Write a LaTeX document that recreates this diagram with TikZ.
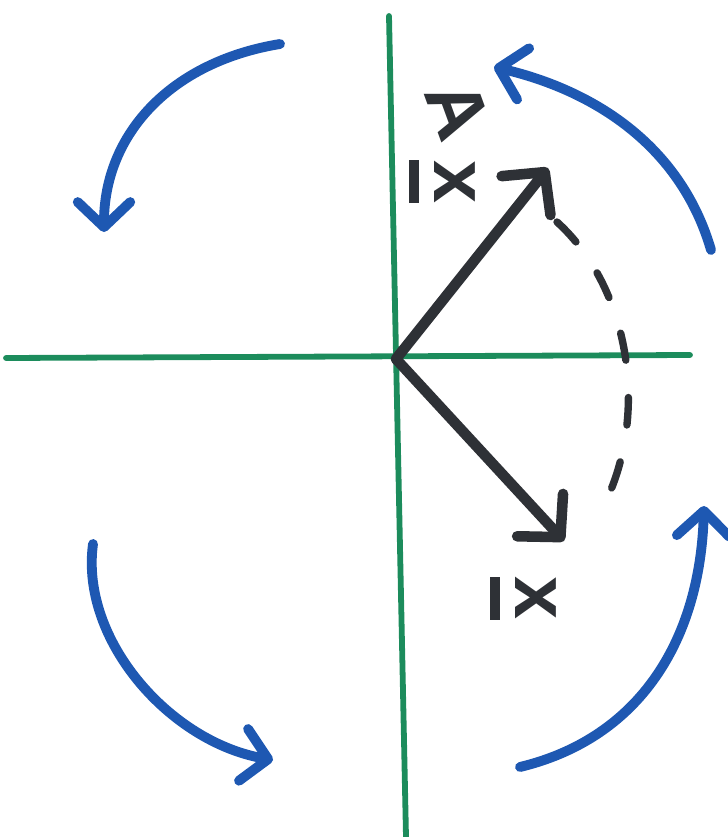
\documentclass[tikz,border=0pt]{standalone}
\usepackage{fontspec}
\setmainfont{Liberation Sans}
\usetikzlibrary{arrows.meta}
\definecolor{mkgreen}{RGB}{28,140,92}
\definecolor{mkblue}{RGB}{30,88,178}
\definecolor{mkdark}{RGB}{46,49,54}
\newcommand\thickul[1]{\setbox0\hbox{#1}\vtop{\copy0\kern0.2em\hrule height0.13em width\wd0}}
\tikzset{
  axisline/.style={draw=mkgreen, line width=3.3pt, line cap=round},
  turnarrow/.style={draw=mkblue, line width=5.6pt, line cap=round,
    -{Straight Barb[round, length=0.5cm, width=1.05cm, line width=5.6pt]}},
  vecarrow/.style={draw=mkdark, line width=6pt, line cap=round,
    -{Straight Barb[round, length=0.6cm, width=1.25cm, line width=6pt]}},
  trace/.style={draw=mkdark, line width=4.2pt, line cap=round,
    dash pattern=on 0.55cm off 0.75cm},
  lbl/.style={font=\fontsize{44}{44}\selectfont\bfseries, text=mkdark, inner sep=0pt}
}

\begin{document}
\begin{tikzpicture}[x=0.02cm, y=-0.02cm]
  \useasboundingbox (0,0) rectangle (727,837);

  % axes
  \coordinate (O)    at (396,359);
  \coordinate (ytop) at (389,16);
  \coordinate (ybot) at (406,837);
  \coordinate (xlft) at (6,358);
  \coordinate (xrgt) at (690,355);
  \draw[axisline] (ytop) -- (ybot);
  \draw[axisline] (xlft) -- (xrgt);

  % vectors x and A x
  \coordinate (Axtip) at (548,168);
  \coordinate (xtip)  at (564,541);
  \draw[vecarrow] (O) -- (Axtip);
  \draw[vecarrow] (O) -- (xtip);

  % dashed swing between them
  \coordinate (swA) at (557,222);
  \coordinate (swB) at (601,511);
  \draw[trace] (swA) .. controls (632,290) and (650,420) .. (swB);

  % labels
  \node[lbl, rotate=-70] (lblA)  at (458,110) {A};
  \node[lbl, rotate=-90] (lblAx) at (442,182) {\thickul{x}};
  \node[lbl, rotate=-90] (lblx)  at (523,598) {\thickul{x}};

  % rotation arrows
  \coordinate (tlS) at (280,44);   \coordinate (tlE) at (104,232);
  \coordinate (trS) at (711,250);  \coordinate (trE) at (494,67);
  \coordinate (blS) at (93,544);   \coordinate (blE) at (273,760);
  \coordinate (brS) at (520,767);  \coordinate (brE) at (704,506);
  \draw[turnarrow] (tlS) .. controls (170,62) and (104,135) .. (tlE);
  \draw[turnarrow] (trS) .. controls (682,150) and (600,92) .. (trE);
  \draw[turnarrow] (blS) .. controls (80,640) and (170,742) .. (blE);
  \draw[turnarrow] (brS) .. controls (640,738) and (700,640) .. (brE);
\end{tikzpicture}
\end{document}
